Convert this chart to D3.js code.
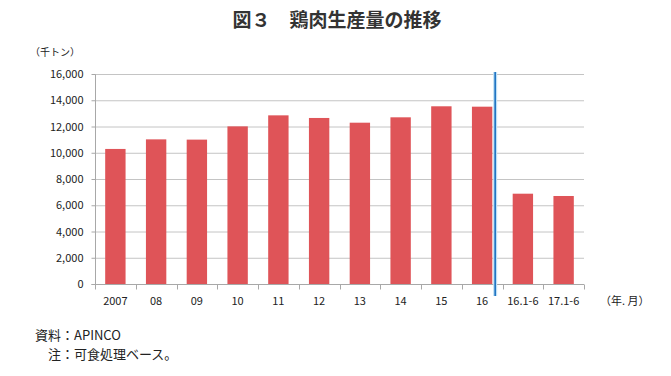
<!doctype html>
<html>
<head>
<meta charset="utf-8">
<script src="https://d3js.org/d3.v7.min.js"></script>
<style>
  body { margin: 0; background: #fff; }
  text { font-family: "Noto Sans CJK JP", "Noto Sans", sans-serif; }
</style>
</head>
<body>
<svg id="chart" width="671" height="376"></svg>
<script>
const categories = ["2007", "08", "09", "10", "11", "12", "13", "14", "15", "16", "16.1-6", "17.1-6"]
const production = [10290, 11020, 11000, 12010, 12850, 12650, 12290, 12700, 13540, 13510, 6880, 6705]
const yTicks = [0, 2000, 4000, 6000, 8000, 10000, 12000, 14000, 16000]

const LEFT = 95, RIGHT = 584, TOP = 74, BOTTOM = 284

const svg = d3.select("#chart")

const x = d3.scaleBand().domain(categories).range([LEFT, RIGHT]).padding(0)
const y = d3.scaleLinear().domain([0, 16000]).range([BOTTOM, TOP])
const barW = x.step() * 0.5

// gridlines
svg.append("g").selectAll("line").data(yTicks).enter().append("line")
    .attr("x1", LEFT).attr("x2", RIGHT)
    .attr("y1", d => y(d) + 0.5).attr("y2", d => y(d) + 0.5)
    .attr("stroke", "#c4c4c4").attr("stroke-width", 1)

// y axis
const yAxis = d3.axisLeft(y).tickValues(yTicks).tickSize(4).tickPadding(8)
    .tickFormat(d3.format(","))
const gy = svg.append("g").attr("transform", "translate(" + (LEFT + 0.5) + ",0)").call(yAxis)
gy.select(".domain").attr("stroke", "#a8a8a8").attr("d", "M-4," + (BOTTOM + 0.5) + "H0V" + (TOP + 0.5))
gy.selectAll(".tick line").attr("stroke", "#a8a8a8")
gy.selectAll(".tick text").attr("font-size", 11).attr("fill", "#222")
    .attr("font-family", "'Liberation Sans', sans-serif")

// bars
svg.append("g").selectAll("rect").data(production).enter().append("rect")
    .attr("x", (d, i) => x(categories[i]) + (x.step() - barW) / 2)
    .attr("y", d => y(d))
    .attr("width", barW)
    .attr("height", d => BOTTOM - y(d))
    .attr("fill", "#df5458")

// x axis
const gx = svg.append("g").attr("transform", "translate(0," + (BOTTOM + 0.5) + ")")
gx.append("line").attr("x1", LEFT).attr("x2", RIGHT).attr("stroke", "#a8a8a8")
const bounds = categories.map(c => x(c)).concat([RIGHT])
gx.selectAll("line.tk").data(bounds).enter().append("line")
    .attr("class", "tk")
    .attr("x1", d => Math.round(d) + 0.5).attr("x2", d => Math.round(d) + 0.5)
    .attr("y1", 0).attr("y2", 5).attr("stroke", "#a8a8a8")
gx.selectAll("text").data(categories).enter().append("text")
    .attr("x", d => x(d) + x.step() / 2)
    .attr("y", 20)
    .attr("text-anchor", "middle")
    .attr("font-size", 11)
    .attr("font-family", "'Liberation Sans', sans-serif")
    .attr("fill", "#222")
    .text(d => d)

// divider line after 16
const divX = x("16") + x.step() * 0.82
svg.append("line").attr("x1", divX).attr("x2", divX).attr("y1", TOP - 2).attr("y2", BOTTOM + 12)
    .attr("stroke", "#bfe0f5").attr("stroke-width", 4)
svg.append("line").attr("x1", divX).attr("x2", divX).attr("y1", TOP - 2).attr("y2", BOTTOM + 12)
    .attr("stroke", "#1d72c2").attr("stroke-width", 1.6)

// texts
svg.append("text").attr("x", 337).attr("y", 27).attr("text-anchor", "middle")
    .attr("font-size", 19).attr("font-weight", "bold").attr("fill", "#333")
    .text("図３　鶏肉生産量の推移")
svg.append("text").attr("x", 30).attr("y", 56).attr("font-size", 10).attr("fill", "#222")
    .text("（千トン）")
svg.append("text").attr("x", 600).attr("y", 305).attr("font-size", 11).attr("fill", "#222")
    .text("（年. 月）")
svg.append("text").attr("x", 35).attr("y", 340).attr("font-size", 13).attr("fill", "#222")
    .text("資料：APINCO")
svg.append("text").attr("x", 48).attr("y", 359).attr("font-size", 13).attr("fill", "#222")
    .text("注：可食処理ベース。")
</script>
</body>
</html>
